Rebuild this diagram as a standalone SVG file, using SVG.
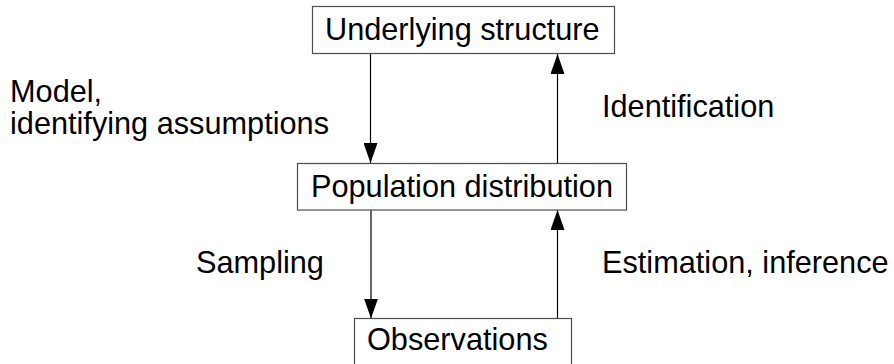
<svg xmlns="http://www.w3.org/2000/svg" width="894" height="364" viewBox="0 0 894 364">
<style>
text{font-family:"Liberation Sans",Arial,sans-serif;font-size:30.7px;fill:#000}
.box{fill:#fff;stroke:#4d4d4d;stroke-width:1.2}
.conn line{stroke:#000;stroke-width:1.2}
</style>
<defs>
<marker id="ah" markerWidth="20" markerHeight="14" refX="20" refY="7" viewBox="0 0 20 14" orient="auto" markerUnits="userSpaceOnUse">
<path d="M0,0 L20,7 L0,14 Z" fill="#000"/>
</marker>
</defs>
<rect width="894" height="364" fill="#fff"/>
<g id="connectors" class="conn">
<line x1="370.5" y1="54" x2="370.5" y2="163" marker-end="url(#ah)"/>
<line x1="557.5" y1="163" x2="557.5" y2="54" marker-end="url(#ah)"/>
<line x1="371" y1="210" x2="371" y2="318.5" marker-end="url(#ah)"/>
<line x1="557.5" y1="318.5" x2="557.5" y2="210" marker-end="url(#ah)"/>
</g>
<g id="underlying">
<rect class="box" x="312.5" y="6.5" width="302" height="47"/>
<text x="325" y="39.5">Underlying structure</text>
</g>
<g id="population">
<rect class="box" x="297.5" y="163.5" width="329" height="46.5"/>
<text x="311" y="197">Population distribution</text>
</g>
<g id="observations">
<rect class="box" x="354.5" y="318.5" width="217" height="60"/>
<text x="367" y="350">Observations</text>
</g>
<g id="labels">
<text x="10" y="102">Model,</text>
<text x="10" y="134">identifying assumptions</text>
<text x="602" y="117">Identification</text>
<text x="196" y="273">Sampling</text>
<text x="602" y="273">Estimation, inference</text>
</g>
</svg>
